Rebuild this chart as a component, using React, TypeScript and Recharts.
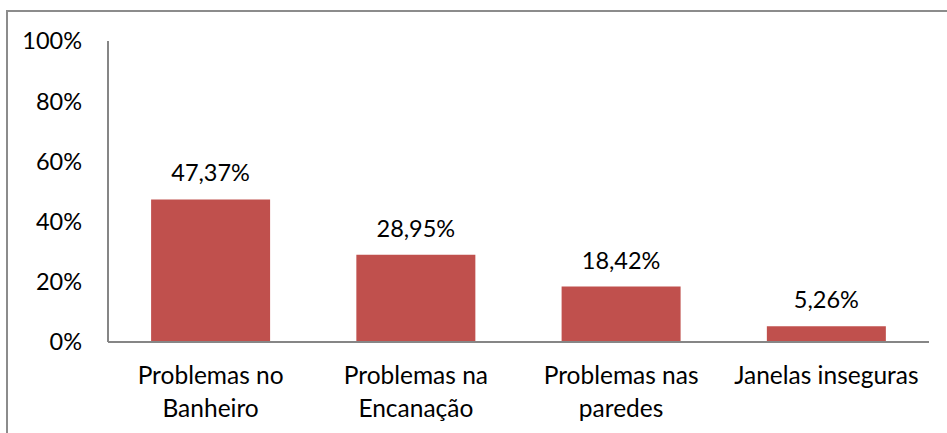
import { BarChart, Bar, XAxis, YAxis, LabelList } from "recharts";

const categories = [
  "Problemas no Banheiro",
  "Problemas na Encanação",
  "Problemas nas paredes",
  "Janelas inseguras",
];
const shares = [47.37, 28.95, 18.42, 5.26];
const yTicks = [0, 20, 40, 60, 80, 100];

const data = categories.map((name, i) => ({ name, value: shares[i] }));

const FONT = "Lato, 'Open Sans', sans-serif";
const FONT_SIZE = 23.5;
const CAT_SIZE = 24.5;
const fmtPct = (v: number) => `${v.toFixed(2).replace(".", ",")}%`;

// greedy word wrap measured with a canvas, since the label box is narrow
function wrapLabel(label: string, maxWidth: number): string[] {
  const ctx = document.createElement("canvas").getContext("2d");
  if (!ctx) return [label];
  ctx.font = `${CAT_SIZE}px ${FONT}`;
  const lines: string[] = [];
  let cur = "";
  for (const word of label.split(" ")) {
    const next = cur ? `${cur} ${word}` : word;
    if (cur && ctx.measureText(next).width > maxWidth) {
      lines.push(cur);
      cur = word;
    } else {
      cur = next;
    }
  }
  if (cur) lines.push(cur);
  return lines;
}

function CategoryTick(props: any) {
  const { x, y, payload } = props;
  const lines = wrapLabel(String(payload.value), 200);
  return (
    <text x={x} y={y} textAnchor="middle" fontSize={CAT_SIZE} fontFamily={FONT} fill="#000">
      {lines.map((ln, i) => (
        <tspan key={i} x={x} y={y + 34 + i * 33}>
          {ln}
        </tspan>
      ))}
    </text>
  );
}

export default function App() {
  return (
    <div style={{ position: "relative", width: 947, height: 433, overflow: "hidden", background: "#fff" }}>
      <style>{`body{margin:0}`}</style>
      <div
        style={{
          position: "absolute",
          left: 6,
          top: 10,
          width: 960,
          height: 440,
          border: "2px solid #8c8c8c",
          boxSizing: "border-box",
        }}
      />
      <div style={{ position: "absolute", left: 0, top: 0 }}>
        <BarChart
          width={947}
          height={433}
          data={data}
          margin={{ top: 41, right: 18, bottom: 11, left: 0 }}
          barCategoryGap="21%"
        >
          <XAxis
            dataKey="name"
            height={80}
            interval={0}
            tickLine={false}
            axisLine={{ stroke: "#868686", strokeWidth: 2 }}
            tick={<CategoryTick />}
          />
          <YAxis
            width={108}
            domain={[0, 100]}
            ticks={yTicks}
            interval={0}
            tickFormatter={(v: number) => `${v}%`}
            tickLine={false}
            tickSize={24}
            axisLine={{ stroke: "#868686", strokeWidth: 2 }}
            tick={{ fontSize: FONT_SIZE, fontFamily: FONT, fill: "#000" }}
          />
          <Bar dataKey="value" fill="#C0504D" isAnimationActive={false}>
            <LabelList
              dataKey="value"
              position="top"
              offset={18}
              formatter={(v: any) => fmtPct(Number(v))}
              style={{ fontSize: FONT_SIZE, fontFamily: FONT, fill: "#000" }}
            />
          </Bar>
        </BarChart>
      </div>
    </div>
  );
}
